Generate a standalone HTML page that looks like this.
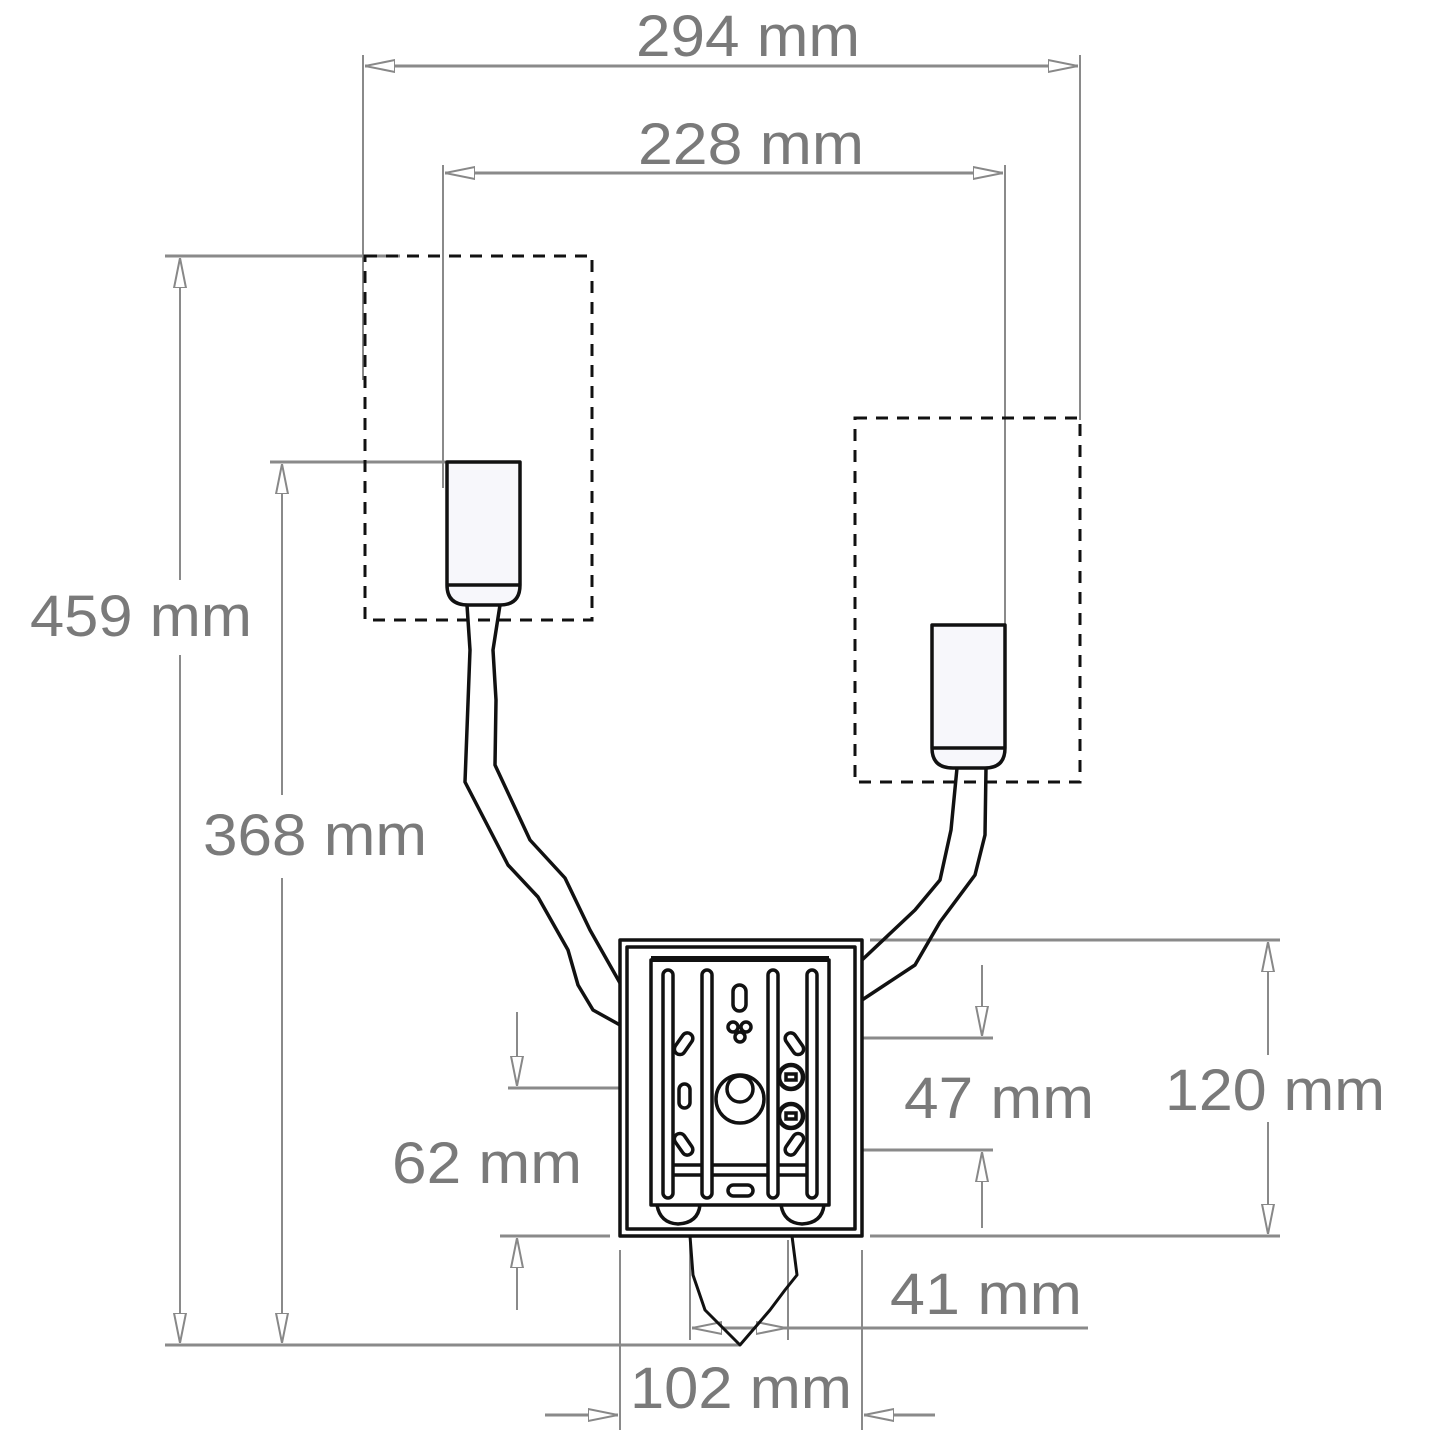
<!DOCTYPE html>
<html><head><meta charset="utf-8"><style>html,body{margin:0;padding:0;background:#fff}svg{display:block}</style></head><body>
<svg width="1445" height="1445" viewBox="0 0 1445 1445" xmlns="http://www.w3.org/2000/svg">
<defs>
<marker id="a" viewBox="0 0 30 14" refX="30" refY="7" markerWidth="30" markerHeight="14" markerUnits="userSpaceOnUse" orient="auto-start-reverse">
<path d="M0,1 L30,7 L0,13 Z" fill="#fff" stroke="#888" stroke-width="2"/>
</marker>
</defs>
<g stroke="#8a8a8a" stroke-width="2" fill="none">
<line x1="363" y1="55" x2="363" y2="380"/>
<line x1="1080" y1="55" x2="1080" y2="420"/>
<line x1="365" y1="66" x2="1078" y2="66" marker-start="url(#a)" marker-end="url(#a)" stroke-width="3"/>
<line x1="443" y1="165" x2="443" y2="488"/>
<line x1="1005" y1="165" x2="1005" y2="660"/>
<line x1="445" y1="173" x2="1003" y2="173" marker-start="url(#a)" marker-end="url(#a)" stroke-width="3"/>
<line x1="165" y1="256" x2="400" y2="256" stroke-width="3"/>
<line x1="165" y1="1345" x2="740" y2="1345" stroke-width="3"/>
<line x1="180" y1="258" x2="180" y2="580" marker-start="url(#a)"/>
<line x1="180" y1="655" x2="180" y2="1343" marker-end="url(#a)"/>
<line x1="270" y1="462" x2="447" y2="462" stroke-width="3"/>
<line x1="282" y1="464" x2="282" y2="795" marker-start="url(#a)"/>
<line x1="282" y1="878" x2="282" y2="1343" marker-end="url(#a)"/>
<line x1="508" y1="1088" x2="735" y2="1088" stroke-width="3"/>
<line x1="500" y1="1236" x2="610" y2="1236" stroke-width="3"/>
<line x1="517" y1="1012" x2="517" y2="1086" marker-end="url(#a)"/>
<line x1="517" y1="1310" x2="517" y2="1238" marker-end="url(#a)"/>
<line x1="800" y1="1038" x2="993" y2="1038" stroke-width="3"/>
<line x1="800" y1="1150" x2="993" y2="1150" stroke-width="3"/>
<line x1="982" y1="965" x2="982" y2="1036" marker-end="url(#a)"/>
<line x1="982" y1="1228" x2="982" y2="1152" marker-end="url(#a)"/>
<line x1="870" y1="940" x2="1280" y2="940" stroke-width="3"/>
<line x1="870" y1="1236" x2="1280" y2="1236" stroke-width="3"/>
<line x1="1268" y1="942" x2="1268" y2="1055" marker-start="url(#a)"/>
<line x1="1268" y1="1122" x2="1268" y2="1234" marker-end="url(#a)"/>
<line x1="690" y1="1240" x2="690" y2="1340"/>
<line x1="788" y1="1240" x2="788" y2="1340"/>
<line x1="692" y1="1328" x2="1088" y2="1328" stroke-width="3"/>
<line x1="740" y1="1328" x2="692" y2="1328" marker-end="url(#a)"/>
<line x1="740" y1="1328" x2="786" y2="1328" marker-end="url(#a)"/>
<line x1="620" y1="1250" x2="620" y2="1430"/>
<line x1="862" y1="1250" x2="862" y2="1430"/>
<line x1="545" y1="1415" x2="618" y2="1415" marker-end="url(#a)" stroke-width="3"/>
<line x1="935" y1="1415" x2="864" y2="1415" marker-end="url(#a)" stroke-width="3"/>
</g>
<g fill="#7a7a7a" font-family="Liberation Sans, sans-serif" font-size="58">
<text x="636" y="56" textLength="224" lengthAdjust="spacingAndGlyphs">294 mm</text>
<text x="638" y="164" textLength="226" lengthAdjust="spacingAndGlyphs">228 mm</text>
<text x="30" y="636" textLength="222" lengthAdjust="spacingAndGlyphs">459 mm</text>
<text x="203" y="855" textLength="224" lengthAdjust="spacingAndGlyphs">368 mm</text>
<text x="392" y="1183" textLength="190" lengthAdjust="spacingAndGlyphs">62 mm</text>
<text x="904" y="1118" textLength="190" lengthAdjust="spacingAndGlyphs">47 mm</text>
<text x="1165" y="1110" textLength="220" lengthAdjust="spacingAndGlyphs">120 mm</text>
<text x="890" y="1314" textLength="192" lengthAdjust="spacingAndGlyphs">41 mm</text>
<text x="630" y="1408" textLength="222" lengthAdjust="spacingAndGlyphs">102 mm</text>
</g>
<g fill="none" stroke="#111" stroke-width="3" stroke-dasharray="12,9">
<rect x="365" y="256" width="227" height="364"/>
<rect x="855" y="418" width="225" height="364"/>
</g>
<g stroke="#111" stroke-width="3.5" fill="none" stroke-linejoin="round">
<path d="M447,462 H520 V585 Q520,605 500,605 H468 Q447,605 447,585 Z" fill="#f7f7fb"/>
<line x1="447" y1="585" x2="520" y2="585"/>
<path d="M932,625 H1005 V748 Q1005,768 985,768 H953 Q932,768 932,748 Z" fill="#f7f7fb"/>
<line x1="932" y1="748" x2="1005" y2="748"/>
<polyline points="467,605 470,650 465,782 508,865 538,897 568,950 578,985 593,1010 620,1025"/>
<polyline points="500,605 493,650 496,700 495,765 530,840 565,878 590,930 620,983"/>
<polyline points="957,768 951,830 940,880 915,910 862,960"/>
<polyline points="986,768 985,835 975,875 940,922 915,965 862,1000"/>
<rect x="620" y="940" width="242" height="296" fill="#fff"/>
<rect x="627" y="947" width="228" height="282"/>
<path d="M651,960 H829 V1205 H651 Z"/>
<line x1="651" y1="959" x2="829" y2="959" stroke-width="6"/>
<path d="M657,1205 Q660,1223 678,1224 Q698,1223 700,1205"/>
<path d="M781,1205 Q784,1223 802,1224 Q822,1223 824,1205"/>
<path d="M690,1236 L693,1275 705,1310 740,1345 770,1310 785,1290 797,1275 792,1236" stroke-width="3"/>
</g>
<g stroke="#111" stroke-width="3.5" fill="none">
<rect x="663" y="970" width="10" height="228" rx="5"/>
<rect x="702" y="970" width="10" height="228" rx="5"/>
<rect x="768" y="970" width="10" height="228" rx="5"/>
<rect x="807" y="970" width="10" height="228" rx="5"/>
<path d="M673,1165 H702 M712,1165 H768 M778,1165 H807"/>
<path d="M673,1175 H702 M712,1175 H768 M778,1175 H807"/>
<rect x="728" y="1185" width="25" height="11" rx="5.5"/>
<rect x="733" y="985" width="13" height="26" rx="6.5"/>
<circle cx="733" cy="1027" r="5"/><circle cx="746" cy="1027" r="5"/><circle cx="740" cy="1037" r="5"/>
<rect x="678" y="1032" width="11" height="24" rx="5.5" transform="rotate(35 684 1044)"/>
<rect x="789" y="1032" width="11" height="24" rx="5.5" transform="rotate(-35 794 1044)"/>
<rect x="679" y="1084" width="11" height="24" rx="5.5"/>
<rect x="678" y="1132" width="11" height="24" rx="5.5" transform="rotate(-35 684 1144)"/>
<rect x="789" y="1132" width="11" height="24" rx="5.5" transform="rotate(35 794 1144)"/>
<circle cx="740" cy="1099" r="24"/>
<circle cx="740" cy="1089" r="13"/>
<circle cx="791" cy="1077" r="12" stroke-width="4.5"/>
<rect x="786" y="1074" width="10" height="6"/>
<circle cx="791" cy="1116" r="12" stroke-width="4.5"/>
<rect x="786" y="1113" width="10" height="6"/>
</g>
</svg>
</body></html>
